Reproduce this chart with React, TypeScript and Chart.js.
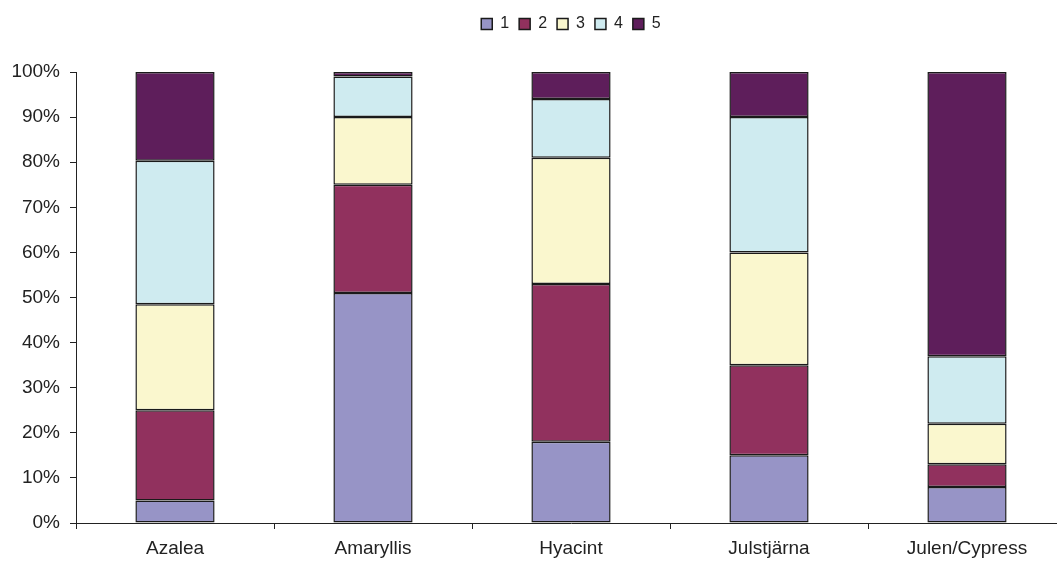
import React, { useEffect, useRef } from "react";
import { Chart, registerables } from "chart.js";

Chart.register(...registerables);

// Flower types on the x axis
const categories = ["Azalea", "Amaryllis", "Hyacint", "Julstjärna", "Julen/Cypress"];

// Share of answers per rating (percent of each flower)
const series1 = [5, 51, 18, 15, 8];
const series2 = [20, 24, 35, 20, 5];
const series3 = [23.5, 15, 28, 25, 9];
const series4 = [31.8, 9, 13, 30, 15];
const series5 = [19.7, 1, 6, 10, 63];

const seriesNames = ["1", "2", "3", "4", "5"];
const seriesColors = ["#9794c6", "#91315e", "#faf7ce", "#cfebf0", "#5e1e5b"];

const yTicks = [0, 10, 20, 30, 40, 50, 60, 70, 80, 90, 100];

const FONT = "'Liberation Sans', Arial, Helvetica, sans-serif";
const INK = "#222222";

export default function App() {
  const canvasRef = useRef<HTMLCanvasElement | null>(null);

  useEffect(() => {
    if (!canvasRef.current) return;
    const values = [series1, series2, series3, series4, series5];
    const chart = new Chart(canvasRef.current, {
      type: "bar",
      data: {
        labels: categories,
        datasets: values.map((data, i) => ({
          label: seriesNames[i],
          data,
          backgroundColor: seriesColors[i],
          borderColor: "#1a1a1a",
          borderWidth: 1.5,
          borderSkipped: false,
          inflateAmount: 0,
          barPercentage: 0.4,
          categoryPercentage: 1.0,
        })),
      },
      options: {
        responsive: false,
        animation: false,
        devicePixelRatio: 1,
        layout: { padding: { top: 6, left: 0, right: 0, bottom: 0 } },
        plugins: {
          tooltip: { enabled: false },
          legend: {
            position: "top",
            weight: 2000,
            labels: {
              color: INK,
              font: { family: FONT, size: 16 },
              boxWidth: 11,
              boxHeight: 11,
              padding: 10,
            },
          },
          // blank gap between the legend and the plot
          title: {
            display: true,
            position: "top",
            weight: 500,
            text: " ",
            font: { size: 1, lineHeight: 1 },
            padding: 14.5,
          },
        },
        scales: {
          x: {
            stacked: true,
            offset: true,
            grid: {
              display: true,
              offset: true,
              drawOnChartArea: false,
              drawTicks: true,
              tickLength: 6,
              color: INK,
              lineWidth: 1,
            },
            border: { display: true, color: INK, width: 1 },
            ticks: {
              color: INK,
              font: { family: FONT, size: 19 },
              padding: 8,
              maxRotation: 0,
              autoSkip: false,
            },
            afterFit: (scale: any) => {
              scale.height = 39;
            },
          },
          y: {
            stacked: true,
            min: 0,
            max: 100,
            afterBuildTicks: (scale: any) => {
              scale.ticks = yTicks.map((v) => ({ value: v }));
            },
            grid: {
              display: true,
              drawOnChartArea: false,
              drawTicks: true,
              tickLength: 6,
              color: INK,
              lineWidth: 1,
            },
            border: { display: true, color: INK, width: 1 },
            ticks: {
              color: INK,
              font: { family: FONT, size: 19 },
              padding: 10,
              callback: (v: any) => `${v}%`,
            },
            afterFit: (scale: any) => {
              scale.width = 76;
            },
          },
          // spacer on the right so the legend centres over the plot
          yRight: {
            position: "right",
            display: true,
            min: 0,
            max: 100,
            grid: { display: false, drawTicks: false },
            border: { display: false },
            ticks: { display: false },
            afterFit: (scale: any) => {
              scale.width = 76;
            },
          },
        },
      },
    });
    return () => chart.destroy();
  }, []);

  return (
    <div
      style={{
        position: "fixed",
        left: 0,
        top: 0,
        width: 1142,
        height: 562,
        background: "#ffffff",
        overflow: "hidden",
      }}
    >
      <canvas ref={canvasRef} width={1142} height={562} />
    </div>
  );
}
